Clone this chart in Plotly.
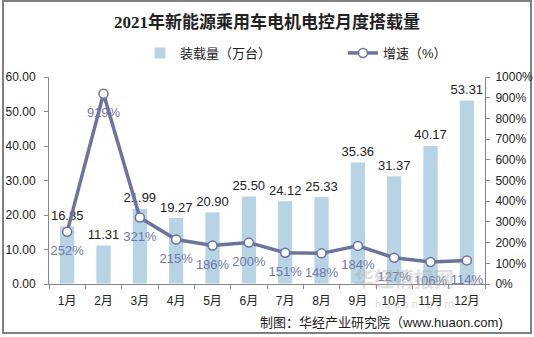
import plotly.graph_objects as go

months = ["1月", "2月", "3月", "4月", "5月", "6月", "7月", "8月", "9月", "10月", "11月", "12月"]
volume = [16.85, 11.31, 21.99, 19.27, 20.90, 25.50, 24.12, 25.33, 35.36, 31.37, 40.17, 53.31]
growth = [252, 919, 321, 215, 186, 200, 151, 148, 184, 127, 106, 114]
left_ticks = [0, 10, 20, 30, 40, 50, 60]
right_ticks = [0, 100, 200, 300, 400, 500, 600, 700, 800, 900, 1000]

FONT = "Arial, Liberation Sans, Noto Sans CJK SC"
LINE_C = "#6b739f"
BAR_C = "#b7d3e4"

fig = go.Figure()
fig.add_trace(go.Bar(
    x=months, y=volume, name="装载量（万台）",
    marker=dict(color=BAR_C, line=dict(color="white", width=1)),
    text=[f"{v:.2f}" for v in volume], textposition="outside",
    textfont=dict(color="#222222", size=13, family=FONT),
    constraintext="none",
    cliponaxis=False, width=0.42,
))
fig.add_trace(go.Scatter(
    x=months, y=growth, name="增速（%）", yaxis="y2",
    mode="lines+markers",
    line=dict(color=LINE_C, width=3.5),
    marker=dict(color="white", size=9, line=dict(color=LINE_C, width=1.5)),
    cliponaxis=False,
))
# percent labels (text only, offset below points)
fig.add_trace(go.Scatter(
    x=months, y=growth, yaxis="y2", showlegend=False, hoverinfo="skip",
    mode="markers+text",
    marker=dict(size=20, opacity=0),
    text=[f"{v}%" for v in growth], textposition="bottom center",
    textfont=dict(color="#7179a8", size=13, family=FONT),
    cliponaxis=False,
))

fig.update_layout(
    width=534, height=337,
    margin=dict(l=49, r=49, t=77, b=53, autoexpand=False),
    paper_bgcolor="white", plot_bgcolor="white",
    font=dict(family=FONT, size=12, color="#222222"),
    title=dict(text="<b>2021年新能源乘用车电机电控月度搭载量</b>",
               x=0.5, xanchor="center", y=1 - 22 / 337, yanchor="middle",
               font=dict(family="Liberation Serif, Noto Sans CJK SC", size=17, color="#222222")),
    showlegend=True,
    legend=dict(orientation="h", x=(140 - 49) / 436, xanchor="left", y=1.116, yanchor="middle",
                font=dict(size=13, color="#222222", family=FONT),
                itemwidth=30, entrywidth=158, bgcolor="rgba(0,0,0,0)"),
    xaxis=dict(type="category", range=[-0.5, 11.5], showline=True, linecolor="#888888",
               linewidth=1, ticks="outside", tickson="boundaries", ticklen=4,
               tickcolor="#888888", tickangle=0, ticklabelstandoff=6, showgrid=False,
               automargin=False, tickfont=dict(size=12, color="#222222")),
    yaxis=dict(range=[0, 60], tickvals=left_ticks, ticktext=[f"{v:.2f}" for v in left_ticks],
               showline=True, linecolor="#888888", linewidth=1, ticks="outside", ticklen=4,
               tickcolor="#888888", showgrid=False, zeroline=False, ticklabelstandoff=6,
               automargin=False, tickfont=dict(size=12, color="#222222")),
    yaxis2=dict(range=[0, 1000], overlaying="y", side="right", tickvals=right_ticks,
                ticktext=[f"{v}%" for v in right_ticks],
                showline=True, linecolor="#888888", linewidth=1, ticks="outside", ticklen=4,
                tickcolor="#888888", showgrid=False, zeroline=False, ticklabelstandoff=3,
                automargin=False, tickfont=dict(size=12, color="#222222")),
)

# outer border
fig.add_shape(type="rect", xref="paper", yref="paper",
              x0=(3 - 49) / 436, x1=(531 - 49) / 436,
              y0=(284 - 333) / 207, y1=(284 - 1) / 207,
              line=dict(color="#808080", width=2), layer="below")

# watermark
fig.add_annotation(text="<b>华经情报网</b>", xref="paper", yref="paper",
                   x=(456 - 49) / 436, y=(284 - 295) / 207, showarrow=False,
                   font=dict(size=20, color="rgba(170,170,170,0.4)", family="Noto Sans CJK SC"))
fig.add_annotation(text="h u a o n . c o m", xref="paper", yref="paper",
                   x=(456 - 49) / 436, y=(284 - 312) / 207, showarrow=False,
                   font=dict(size=11, color="rgba(170,170,170,0.45)", family=FONT))
# source
fig.add_annotation(text="制图：华经产业研究院（www.huaon.com)", xref="paper", yref="paper",
                   x=(505 - 49) / 436, xanchor="right", y=(284 - 322) / 207, yanchor="middle",
                   showarrow=False, font=dict(size=13, color="#222222", family=FONT))

fig.write_html("out.html")
